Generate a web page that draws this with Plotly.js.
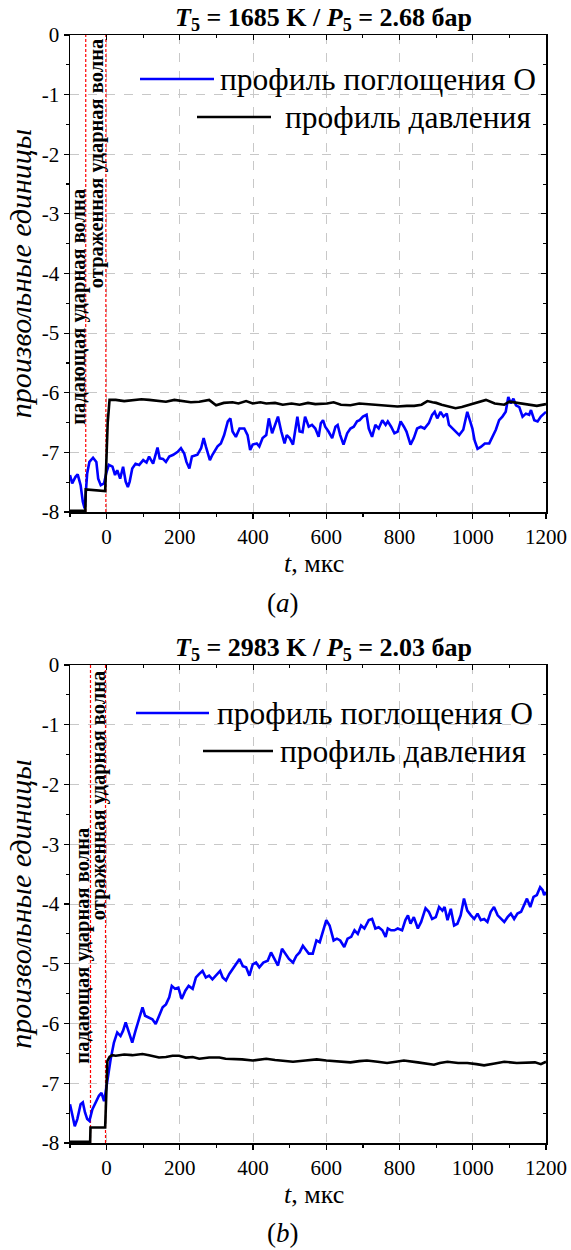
<!DOCTYPE html>
<html>
<head>
<meta charset="utf-8">
<script src="https://cdn.plot.ly/plotly-3.0.1.min.js"></script>
<style>html,body{margin:0;padding:0;background:#fff;}#chart{width:571px;height:1250px;}</style>
</head>
<body>
<div id="chart"></div>
<script>
// ---------------- DATA ----------------
const titleA = "<b><i>T</i><sub>5</sub> = 1685 K / <i>P</i><sub>5</sub> = 2.68 бар</b>";
const titleB = "<b><i>T</i><sub>5</sub> = 2983 K / <i>P</i><sub>5</sub> = 2.03 бар</b>";
const seriesNames = ["профиль поглощения О", "профиль давления"];
const waveLabels = ["падающая ударная волна", "отраженная ударная волна"];
const captions = ["(<i>a</i>)", "(<i>b</i>)"];
const xTitle = "<i>t</i>, мкс";
const yTitle = "<i>произвольные единицы</i>";
const xTickVals = [0, 200, 400, 600, 800, 1000, 1200];
const xTickText = ["0", "200", "400", "600", "800", "1000", "1200"];
const yTickVals = [0, -1, -2, -3, -4, -5, -6, -7, -8];
const yTickText = ["0", "-1", "-2", "-3", "-4", "-5", "-6", "-7", "-8"];

// shock arrival times (µs): incident, reflected
const shockA = [-57, -2];
const shockB = [-44, -3];

// (a) O absorption profile
const tA_O = [-100,-94,-85,-79,-71,-65,-60,-58,-53,-47,-37,-28,-23,-16,-7,-1,6,16,23,29,37,45,52,58,63,70,79,89,100,109,116,127,139,145,154,162,171,182,194,203,212,218,226,233,248,258,265,271,282,289,303,312,321,331,338,344,353,363,376,385,392,399,410,417,426,436,443,452,463,468,477,486,492,500,509,516,521,527,535,542,552,561,570,579,585,591,597,606,616,625,631,638,647,657,666,675,684,691,700,710,716,725,734,743,753,762,768,777,786,795,803,812,819,830,839,848,858,868,880,889,896,903,912,920,929,935,944,953,963,974,985,993,999,1005,1013,1022,1033,1045,1054,1063,1072,1081,1090,1097,1104,1111,1118,1127,1136,1145,1154,1159,1168,1177,1186,1200];
const vA_O = [-7.38,-7.52,-7.41,-7.37,-7.55,-7.83,-7.94,-7.78,-7.35,-7.16,-7.09,-7.16,-7.44,-7.55,-7.52,-7.35,-7.21,-7.24,-7.38,-7.30,-7.44,-7.24,-7.49,-7.58,-7.49,-7.27,-7.19,-7.21,-7.13,-7.17,-7.07,-7.19,-6.92,-7.10,-7.11,-7.16,-7.07,-7.04,-6.99,-6.93,-7.02,-7.16,-7.27,-7.07,-7.04,-6.93,-6.76,-6.90,-7.13,-7.04,-6.90,-6.85,-6.71,-6.48,-6.43,-6.65,-6.74,-6.60,-6.60,-6.71,-6.96,-6.87,-6.85,-6.90,-6.76,-6.71,-6.43,-6.68,-6.51,-6.40,-6.65,-6.85,-6.71,-6.76,-6.87,-6.54,-6.40,-6.65,-6.66,-6.40,-6.57,-6.54,-6.60,-6.74,-6.51,-6.46,-6.57,-6.65,-6.76,-6.57,-6.54,-6.71,-6.87,-6.68,-6.60,-6.57,-6.48,-6.46,-6.40,-6.37,-6.60,-6.74,-6.54,-6.60,-6.46,-6.54,-6.48,-6.57,-6.68,-6.65,-6.48,-6.57,-6.65,-6.87,-6.76,-6.60,-6.57,-6.60,-6.51,-6.37,-6.32,-6.43,-6.32,-6.40,-6.35,-6.54,-6.60,-6.65,-6.71,-6.62,-6.32,-6.48,-6.60,-6.80,-6.94,-6.91,-6.85,-6.85,-6.74,-6.62,-6.46,-6.40,-6.32,-6.07,-6.18,-6.10,-6.21,-6.24,-6.40,-6.35,-6.37,-6.29,-6.46,-6.48,-6.40,-6.32];

// (a) pressure profile
const tA_P = [-100,-80,-58,-57,-30,-4,-1,3,8,25,48,70,95,116,140,162,185,207,230,253,280,299,320,344,360,381,399,420,436,460,481,505,527,550,570,602,620,640,666,690,711,730,750,775,794,820,840,860,876,890,900,915,931,953,970,985,1010,1036,1060,1086,1100,1120,1150,1175,1200];
const vA_P = [-7.98,-7.98,-7.98,-7.62,-7.63,-7.65,-7.20,-6.50,-6.12,-6.12,-6.14,-6.13,-6.11,-6.12,-6.14,-6.15,-6.12,-6.14,-6.16,-6.15,-6.12,-6.21,-6.17,-6.16,-6.18,-6.14,-6.18,-6.16,-6.18,-6.17,-6.20,-6.18,-6.20,-6.17,-6.19,-6.18,-6.16,-6.20,-6.21,-6.18,-6.19,-6.21,-6.21,-6.22,-6.23,-6.22,-6.22,-6.20,-6.14,-6.16,-6.17,-6.20,-6.23,-6.26,-6.24,-6.21,-6.17,-6.12,-6.18,-6.20,-6.15,-6.17,-6.20,-6.22,-6.19];

// (b) O absorption profile
const tB_O = [-100,-94,-87,-80,-71,-65,-59,-53,-47,-39,-30,-21,-14,-7,-3,5,11,20,29,38,45,52,61,70,79,89,98,105,116,125,134,143,153,162,171,178,187,196,205,215,224,235,244,253,262,271,280,289,299,310,317,326,335,344,353,363,372,381,390,399,408,417,428,440,449,458,468,479,489,498,509,518,527,536,542,552,563,573,582,591,600,609,620,629,638,649,658,668,677,686,695,704,716,725,734,743,753,762,768,777,786,795,807,816,823,830,839,850,859,871,880,889,899,908,917,923,931,940,949,958,967,976,985,995,1004,1013,1022,1031,1040,1049,1058,1068,1077,1086,1095,1104,1113,1122,1132,1141,1148,1157,1166,1175,1184,1191,1195,1200];
const vB_O = [-7.35,-7.55,-7.72,-7.60,-7.35,-7.32,-7.49,-7.60,-7.63,-7.44,-7.32,-7.21,-7.16,-7.30,-7.16,-6.82,-6.60,-6.32,-6.15,-6.21,-6.12,-5.98,-6.15,-6.32,-6.12,-5.93,-5.73,-5.87,-5.90,-5.93,-6.01,-5.87,-5.73,-5.68,-5.56,-5.37,-5.42,-5.40,-5.59,-5.45,-5.37,-5.42,-5.23,-5.17,-5.12,-5.23,-5.20,-5.26,-5.20,-5.12,-5.23,-5.28,-5.17,-5.09,-5.03,-4.92,-5.04,-5.06,-5.20,-5.01,-4.98,-5.06,-4.98,-4.95,-4.81,-4.92,-5.03,-4.75,-4.84,-4.92,-4.98,-4.87,-4.81,-4.70,-4.75,-4.83,-4.83,-4.61,-4.64,-4.44,-4.27,-4.36,-4.61,-4.58,-4.61,-4.72,-4.58,-4.55,-4.44,-4.50,-4.36,-4.41,-4.27,-4.25,-4.41,-4.39,-4.44,-4.55,-4.41,-4.44,-4.44,-4.41,-4.44,-4.27,-4.19,-4.33,-4.22,-4.41,-4.30,-4.07,-4.13,-4.25,-4.22,-4.05,-4.11,-4.05,-4.27,-4.08,-4.36,-4.33,-4.19,-3.91,-4.11,-4.19,-4.25,-4.16,-4.27,-4.25,-4.30,-4.13,-4.05,-4.19,-4.25,-4.30,-4.22,-4.16,-4.25,-4.16,-4.13,-4.02,-3.91,-4.05,-3.88,-3.85,-3.72,-3.77,-3.85,-3.80];

// (b) pressure profile
const tB_P = [-100,-70,-45,-44,-20,-4,-1,2,8,15,25,48,70,98,116,143,162,180,198,216,235,253,280,308,325,344,370,399,420,436,460,481,509,543,574,600,630,666,690,711,740,766,790,812,850,894,910,931,960,985,1010,1031,1060,1086,1120,1150,1170,1186,1200];
const vB_P = [-7.98,-7.98,-7.98,-7.74,-7.74,-7.74,-7.20,-6.63,-6.56,-6.53,-6.54,-6.52,-6.53,-6.51,-6.53,-6.57,-6.56,-6.54,-6.54,-6.57,-6.56,-6.59,-6.57,-6.57,-6.59,-6.59,-6.60,-6.62,-6.60,-6.59,-6.61,-6.62,-6.64,-6.62,-6.60,-6.62,-6.63,-6.65,-6.63,-6.62,-6.64,-6.66,-6.64,-6.62,-6.65,-6.69,-6.66,-6.64,-6.66,-6.66,-6.68,-6.70,-6.67,-6.64,-6.66,-6.66,-6.65,-6.68,-6.64];

// ---------------- LAYOUT ----------------
const W = 571, H = 1250, ML = 70, MR = 25, MT = 35, MB = 107;
const PW = W - ML - MR, PH = H - MT - MB;
const px = x => (x - ML) / PW;            // pixel -> paper x
const py = y => (H - MB - y) / PH;        // pixel -> paper y
const domA = [py(512), 1];
const domB = [0, py(665)];

const SERIF = "Liberation Serif";
const BLUE = "#0000ff";

function shockTraces(times, xa, ya) {
  return times.map(t => ({
    x: [t, t], y: [-8, 0], xaxis: xa, yaxis: ya, mode: "lines",
    line: {color: "#ff0000", width: 1.2, dash: "3px,2px"},
    showlegend: false, hoverinfo: "skip"
  }));
}

const traces = [
  ...shockTraces(shockA, "x", "y"),
  {x: tA_O, y: vA_O, xaxis: "x", yaxis: "y", mode: "lines", name: seriesNames[0], line: {color: BLUE, width: 2.6}, showlegend: false},
  {x: tA_P, y: vA_P, xaxis: "x", yaxis: "y", mode: "lines", name: seriesNames[1], line: {color: "#000", width: 2.6}, showlegend: false},
  ...shockTraces(shockB, "x2", "y2"),
  {x: tB_O, y: vB_O, xaxis: "x2", yaxis: "y2", mode: "lines", name: seriesNames[0], line: {color: BLUE, width: 2.6}, showlegend: false},
  {x: tB_P, y: vB_P, xaxis: "x2", yaxis: "y2", mode: "lines", name: seriesNames[1], line: {color: "#000", width: 2.6}, showlegend: false},
  {x: [null], y: [null], xaxis: "x3", yaxis: "y3", mode: "lines", showlegend: false, hoverinfo: "skip"},
  {x: [null], y: [null], xaxis: "x4", yaxis: "y4", mode: "lines", showlegend: false, hoverinfo: "skip"}
];

function xAxis(anchor) {
  return {
    anchor: anchor, domain: [0, 1], range: [-100, 1200],
    tickvals: xTickVals, ticktext: xTickText,
    ticks: "outside", ticklen: 5, tickwidth: 1.2, tickcolor: "#000",
    minor: {ticks: "outside", dtick: 100, tick0: 0, ticklen: 3, tickcolor: "#000", showgrid: false},
    showline: true, linecolor: "#000", linewidth: 1.5,
    showgrid: true, gridcolor: "#c8c8c8", griddash: "dash", gridwidth: 1,
    zeroline: false,
    tickfont: {family: SERIF, size: 21, color: "#000"}
  };
}
function yAxis(anchor, dom) {
  return {
    anchor: anchor, domain: dom, range: [-8, 0],
    tickvals: yTickVals, ticktext: yTickText,
    ticks: "outside", ticklen: 5, tickwidth: 1.2, tickcolor: "#000",
    minor: {ticks: "outside", dtick: 0.5, tick0: 0, ticklen: 3, tickcolor: "#000", showgrid: false},
    showline: true, linecolor: "#000", linewidth: 1.5,
    showgrid: true, gridcolor: "#c8c8c8", griddash: "dash", gridwidth: 1,
    zeroline: false,
    tickfont: {family: SERIF, size: 21, color: "#000"},
    title: {text: yTitle, font: {family: SERIF, size: 30, color: "#000"}, standoff: 1}
  };
}
function mirrorX(over, anchor) {
  return {overlaying: over, anchor: anchor, side: "top", range: [-100, 1200],
    tickvals: xTickVals, showticklabels: false, ticks: "inside", ticklen: 5, tickcolor: "#000",
    minor: {ticks: "inside", dtick: 100, tick0: 0, ticklen: 3, tickcolor: "#000", showgrid: false},
    showline: true, linecolor: "#000", linewidth: 1.5, showgrid: false, zeroline: false};
}
function mirrorY(over, anchor) {
  return {overlaying: over, anchor: anchor, side: "right", range: [-8, 0],
    tickvals: yTickVals, showticklabels: false, ticks: "inside", ticklen: 5, tickcolor: "#000",
    minor: {ticks: "inside", dtick: 0.5, tick0: 0, ticklen: 3, tickcolor: "#000", showgrid: false},
    showline: true, linecolor: "#000", linewidth: 1.5, showgrid: false, zeroline: false};
}

const labelFont = {family: SERIF, size: 20.5, color: "#000"};
const pTxt = (text, x, y, size, anchor) => ({text: text, xref: "paper", yref: "paper", x: px(x), y: py(y),
  xanchor: anchor || "center", yanchor: "middle", showarrow: false, borderpad: 0, font: {family: SERIF, size: size, color: "#000"}});

const annotations = [
  pTxt(titleA, 323, 19, 26),
  pTxt(titleB, 323, 649, 26),
  pTxt(xTitle, 314, 563, 26),
  pTxt(xTitle, 314, 1194, 26),
  pTxt(captions[0], 283, 603, 27),
  pTxt(captions[1], 283, 1233, 27),
  pTxt(seriesNames[0], 219, 79, 31.5, "left"),
  pTxt(seriesNames[1], 284, 117, 31.5, "left"),
  pTxt(seriesNames[0], 216, 713, 31.5, "left"),
  pTxt(seriesNames[1], 279, 751, 31.5, "left"),
  {text: "<b>" + waveLabels[0] + "</b>", xref: "x", yref: "y", x: -77, y: -4.55, textangle: -90, showarrow: false, font: labelFont},
  {text: "<b>" + waveLabels[1] + "</b>", xref: "x", yref: "y", x: -28, y: -2.16, textangle: -90, showarrow: false, font: labelFont},
  {text: "<b>" + waveLabels[0] + "</b>", xref: "x2", yref: "y2", x: -65, y: -4.70, textangle: -90, showarrow: false, font: labelFont},
  {text: "<b>" + waveLabels[1] + "</b>", xref: "x2", yref: "y2", x: -20, y: -2.19, textangle: -90, showarrow: false, font: labelFont}
];

const shapes = [
  {type: "line", xref: "paper", yref: "paper", x0: px(140), x1: px(214), y0: py(79), y1: py(79), line: {color: BLUE, width: 2.5}},
  {type: "line", xref: "paper", yref: "paper", x0: px(197), x1: px(271), y0: py(117), y1: py(117), line: {color: "#000", width: 2.5}},
  {type: "line", xref: "paper", yref: "paper", x0: px(136), x1: px(209), y0: py(713), y1: py(713), line: {color: BLUE, width: 2.5}},
  {type: "line", xref: "paper", yref: "paper", x0: px(203), x1: px(273), y0: py(751), y1: py(751), line: {color: "#000", width: 2.5}}
];

const layout = {
  width: W, height: H,
  margin: {l: ML, r: MR, t: MT, b: MB},
  paper_bgcolor: "#fff", plot_bgcolor: "#fff",
  showlegend: false,
  font: {family: SERIF, color: "#000"},
  xaxis: xAxis("y"),
  yaxis: yAxis("x", domA),
  xaxis2: xAxis("y2"),
  yaxis2: yAxis("x2", domB),
  xaxis3: mirrorX("x", "y"),
  yaxis3: Object.assign(mirrorY("y", "x"), {domain: domA}),
  xaxis4: mirrorX("x2", "y2"),
  yaxis4: Object.assign(mirrorY("y2", "x2"), {domain: domB}),
  annotations: annotations,
  shapes: shapes
};

Plotly.newPlot("chart", traces, layout, {displayModeBar: false, staticPlot: true});
</script>
</body>
</html>
